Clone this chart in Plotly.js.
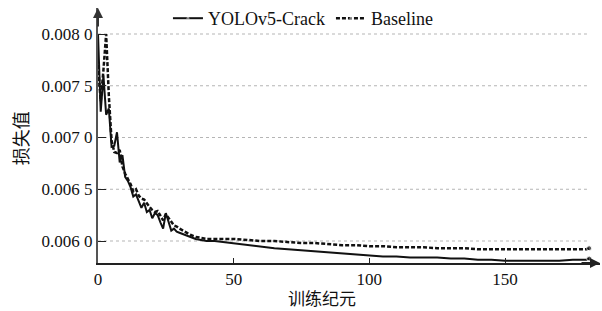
<!DOCTYPE html>
<html>
<head>
<meta charset="utf-8">
<script src="https://cdn.plot.ly/plotly-3.0.1.min.js"></script>
<style>html,body{margin:0;padding:0;background:#fff;}#chart{width:602px;height:311px;}</style>
</head>
<body>
<div id="chart"></div>
<script>
const epochs = [0,1,2,3,4,5,6,7,8,9,10,11,12,13,14,15,16,17,18,19,20,21,22,23,24,25,26,27,28,29,30,32,34,36,38,40,43,46,50,55,60,65,70,75,80,85,90,95,100,105,110,115,120,125,130,135,140,145,150,155,160,165,170,175,180,181];
const yoloCrack = [0.00800,0.00725,0.00760,0.00722,0.00728,0.00691,0.00692,0.00705,0.00676,0.00683,0.00662,0.00658,0.00652,0.00643,0.00645,0.00638,0.00632,0.00637,0.00628,0.00630,0.00622,0.00627,0.00625,0.00618,0.00612,0.00627,0.00618,0.00610,0.00612,0.00609,0.00608,0.00606,0.00604,0.00602,0.00601,0.00600,0.00600,0.00599,0.00598,0.00596,0.00594,0.00593,0.00592,0.00591,0.00590,0.00589,0.00588,0.00587,0.00586,0.00585,0.00585,0.00584,0.00584,0.00584,0.00583,0.00583,0.00582,0.00582,0.00581,0.00581,0.00581,0.00581,0.00581,0.00582,0.00582,0.00583];
const baseline = [0.00770,0.00735,0.00765,0.00800,0.00740,0.00697,0.00686,0.00685,0.00688,0.00672,0.00665,0.00660,0.00655,0.00648,0.00650,0.00644,0.00641,0.00640,0.00636,0.00633,0.00630,0.00628,0.00629,0.00624,0.00620,0.00626,0.00622,0.00618,0.00615,0.00614,0.00612,0.00609,0.00606,0.00604,0.00603,0.00602,0.00602,0.00602,0.00602,0.00601,0.00600,0.00600,0.00599,0.00598,0.00598,0.00597,0.00596,0.00596,0.00595,0.00595,0.00594,0.00594,0.00594,0.00593,0.00593,0.00593,0.00592,0.00592,0.00592,0.00592,0.00592,0.00592,0.00592,0.00592,0.00592,0.00593];
const seriesNames = ["YOLOv5-Crack", "Baseline"];
const yTickVals = [0.0060, 0.0065, 0.0070, 0.0075, 0.0080];
const yTickText = ["0.006 0", "0.006 5", "0.007 0", "0.007 5", "0.008 0"];
const xTickVals = [0, 50, 100, 150];
const xTitle = "训练纪元";
const yTitle = "损失值";

const serif = "Liberation Serif, Times New Roman, serif";
const cjk = "Noto Sans CJK SC";
const endSizes = epochs.map((e, i) => i === epochs.length - 1 ? 5 : 0);

const traces = [
  {x: epochs, y: yoloCrack, name: seriesNames[0], type: "scatter", mode: "lines+markers",
   line: {color: "#111", width: 2}, marker: {size: endSizes, color: "#111"}},
  {x: epochs, y: baseline, name: seriesNames[1], type: "scatter", mode: "lines+markers",
   line: {color: "#111", width: 2.5, dash: "4px,2px"}, marker: {size: endSizes, color: "#111"}}
];

const shapes = yTickVals.map(v => ({type: "line", xref: "paper", yref: "y", x0: 0, x1: 0.974, y0: v, y1: v,
  line: {color: "#b5b5b5", width: 1, dash: "dot"}, layer: "below"}));

const layout = {
  width: 602, height: 311,
  font: {family: serif, size: 17, color: "#111"},
  margin: {l: 98, r: 2, t: 8, b: 48, autoexpand: false},
  paper_bgcolor: "#fff", plot_bgcolor: "#fff",
  showlegend: true,
  legend: {orientation: "h", xref: "container", yref: "container", x: 0.279, xanchor: "left", y: 1.0, yanchor: "top",
    font: {family: serif, size: 18, color: "#111"}, bgcolor: "rgba(0,0,0,0)", itemwidth: 30,
    entrywidth: 118, entrywidthmode: "pixels"},
  xaxis: {range: [0, 185], tickvals: xTickVals, ticks: "inside", ticklen: 5, tickcolor: "#222", tickwidth: 1,
    showline: true, linecolor: "#222", linewidth: 2, showgrid: false, zeroline: false,
    tickfont: {family: serif, size: 17, color: "#111"}},
  yaxis: {range: [0.0057874, 0.0082512], tickvals: yTickVals, ticktext: yTickText, ticks: "inside", ticklen: 8,
    tickcolor: "#222", tickwidth: 1, showline: true, linecolor: "#555", linewidth: 2, showgrid: false, zeroline: false,
    tickfont: {family: serif, size: 17, color: "#111"}},
  shapes: shapes,
  annotations: [
    {text: xTitle, xref: "paper", yref: "paper", x: 0.446, y: -0.137, xanchor: "center", yanchor: "middle",
     showarrow: false, font: {family: cjk, size: 17, color: "#111"}},
    {text: yTitle, xref: "paper", yref: "paper", x: -0.155, y: 0.49, xanchor: "center", yanchor: "middle",
     textangle: -90, showarrow: false, font: {family: cjk, size: 18, color: "#111"}},
    {text: "", xref: "paper", yref: "paper", x: 0, y: 1, ax: 0, ay: 20, showarrow: true, arrowhead: 2,
     arrowsize: 1, arrowwidth: 2, arrowcolor: "#333"},
    {text: "", xref: "paper", yref: "paper", x: 1, y: 0, ax: -20, ay: 0, showarrow: true, arrowhead: 2,
     arrowsize: 1, arrowwidth: 2, arrowcolor: "#222"}
  ]
};

Plotly.newPlot("chart", traces, layout, {staticPlot: true, displayModeBar: false});
</script>
</body>
</html>
